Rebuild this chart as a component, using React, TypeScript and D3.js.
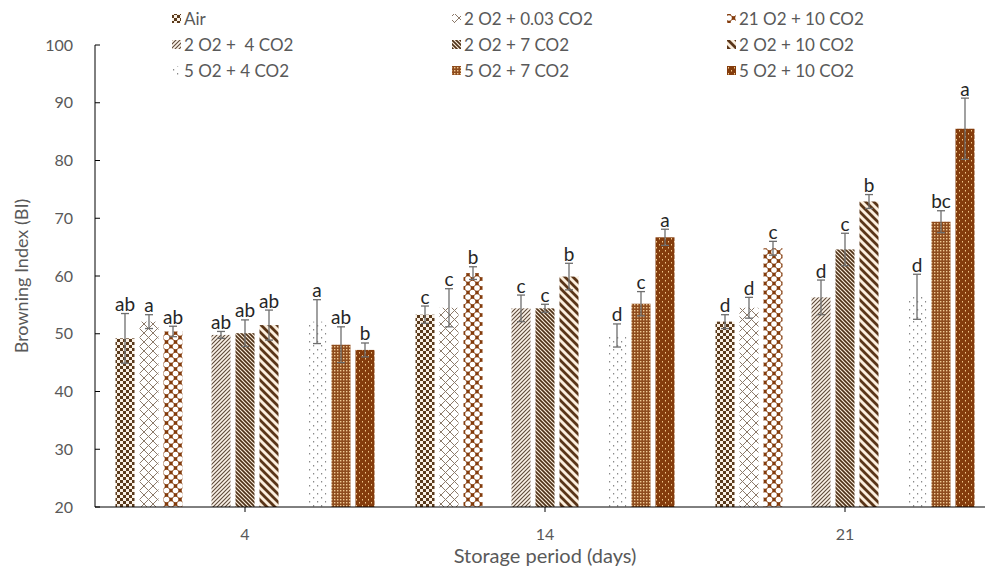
import * as d3 from "d3";

const categories = ["4", "14", "21"];
const seriesNames = [
  "Air",
  "2 O2 + 0.03 CO2",
  "21 O2 + 10 CO2",
  "2 O2 +  4 CO2",
  "2 O2 + 7 CO2",
  "2 O2 + 10 CO2",
  "5 O2 + 4 CO2",
  "5 O2 + 7 CO2",
  "5 O2 + 10 CO2",
];
// values per series, one per storage day (4, 14, 21)
const air = [49.2, 53.3, 52.1];
const o2co2_003 = [52.1, 54.5, 54.5];
const o21co2_10 = [50.4, 60.5, 64.8];
const o2co2_4 = [49.8, 54.4, 56.3];
const o2co2_7 = [50.1, 54.4, 64.6];
const o2co2_10 = [51.5, 59.9, 72.9];
const o5co2_4 = [52.1, 49.7, 56.4];
const o5co2_7 = [48.1, 55.2, 69.4];
const o5co2_10 = [47.2, 66.7, 85.5];
const values = [air, o2co2_003, o21co2_10, o2co2_4, o2co2_7, o2co2_10, o5co2_4, o5co2_7, o5co2_10];
const errors = [
  [4.3, 1.5, 1.2],
  [1.2, 3.3, 1.8],
  [0.9, 1.1, 1.2],
  [0.6, 2.3, 3.0],
  [2.3, 0.7, 2.8],
  [2.6, 2.3, 1.2],
  [3.8, 2.0, 3.9],
  [3.1, 2.1, 1.9],
  [1.2, 1.4, 5.3],
];
const letters = [
  ["ab", "c", "d"],
  ["a", "c", "d"],
  ["ab", "b", "c"],
  ["ab", "c", "d"],
  ["ab", "c", "c"],
  ["ab", "b", "b"],
  ["a", "d", "d"],
  ["ab", "c", "bc"],
  ["b", "a", "a"],
];
const yTicks = [20, 30, 40, 50, 60, 70, 80, 90, 100];

const W = 985;
const H = 567;
const font = "Lato, 'Open Sans', sans-serif";
const grey = "#595959";
const brown = "#843C0C";

function Patterns() {
  return (
    <defs>
      <pattern id="p0" width="6" height="6" patternUnits="userSpaceOnUse">
        <rect width="6" height="6" fill="#faf1e6" />
        <rect width="3" height="3" fill="#5a3a1c" />
        <rect x="3" y="3" width="3" height="3" fill="#5a3a1c" />
      </pattern>
      <pattern id="p1" width="9" height="9" patternUnits="userSpaceOnUse">
        <rect width="9" height="9" fill="#fff" />
        <path d="M0,0L9,9M9,0L0,9" stroke="#8c7a6a" strokeWidth="1" />
      </pattern>
      <pattern id="p2" width="9" height="9" patternUnits="userSpaceOnUse">
        <rect width="9" height="9" fill={brown} />
        <circle cx="0" cy="0" r="2.8" fill="#fff" />
        <circle cx="9" cy="0" r="2.8" fill="#fff" />
        <circle cx="0" cy="9" r="2.8" fill="#fff" />
        <circle cx="9" cy="9" r="2.8" fill="#fff" />
        <circle cx="4.5" cy="4.5" r="2.8" fill="#fff" />
      </pattern>
      <pattern id="p3" width="4" height="4" patternUnits="userSpaceOnUse">
        <rect width="4" height="4" fill="#fbf2e8" />
        <path d="M-1,1L1,-1M0,4L4,0M3,5L5,3" stroke="#5e4a3a" strokeWidth="1.1" />
      </pattern>
      <pattern id="p4" width="4" height="4" patternUnits="userSpaceOnUse">
        <rect width="4" height="4" fill="#f8ead8" />
        <path d="M-1,3L1,5M0,0L4,4M3,-1L5,1" stroke="#4e3118" strokeWidth="1.6" />
      </pattern>
      <pattern id="p5" width="8" height="8" patternUnits="userSpaceOnUse">
        <rect width="8" height="8" fill="#fbeedd" />
        <path d="M-2,6L2,10M0,0L8,8M6,-2L10,2" stroke="#5a3518" strokeWidth="2.8" />
      </pattern>
      <pattern id="p6" width="8" height="8" patternUnits="userSpaceOnUse">
        <rect width="8" height="8" fill="#fff" />
        <rect x="1" y="1" width="1.2" height="1.5" fill="#8a8a8a" />
        <rect x="5" y="5" width="1.2" height="1.5" fill="#8a8a8a" />
      </pattern>
      <pattern id="p7" width="3" height="3" patternUnits="userSpaceOnUse">
        <rect width="3" height="3" fill="#8e4c1e" />
        <rect x="1" y="1" width="1.4" height="1.4" fill="#f0c994" />
      </pattern>
      <pattern id="p8" width="6" height="6" patternUnits="userSpaceOnUse">
        <rect width="6" height="6" fill={brown} />
        <rect x="2" y="1" width="1" height="1.5" fill="#f3c98b" />
        <rect x="5" y="4" width="1" height="1.5" fill="#f3c98b" />
      </pattern>
    </defs>
  );
}

export default function App() {
  const left = 95;
  const x = d3.scaleBand<string>().domain(categories).range([left, 995]);
  const slot = d3.scaleBand<number>().domain(d3.range(11)).range([-132, 132]);
  const barW = 19;
  const y = d3.scaleLinear().domain([20, 100]).range([507, 45]);
  const slotOf = (i: number) => i + Math.floor(i / 3);
  const barX = (i: number, c: number) =>
    x(categories[c])! + x.bandwidth() / 2 + slot(slotOf(i))! + slot.bandwidth() / 2;

  const legendX = [172, 452, 727];
  const legendY = [19, 45, 71];

  return (
    <svg width={W} height={H} style={{ position: "absolute", left: 0, top: 0, background: "#fff" }}>
      <Patterns />

      {/* legend */}
      {seriesNames.map((name, i) => {
        const lx = legendX[i % 3];
        const ly = legendY[Math.floor(i / 3)];
        return (
          <g key={name}>
            <rect x={lx} y={ly - 5} width={9} height={9} fill={`url(#p${i})`} />
            <text x={lx + 12} y={ly} dy="0.35em" fontFamily={font} fontSize={17} fill={grey} style={{ whiteSpace: "pre" }}>
              {name}
            </text>
          </g>
        );
      })}

      {/* bars */}
      {values.map((vals, i) =>
        vals.map((v, c) => (
          <rect
            key={`b${i}-${c}`}
            x={barX(i, c) - barW / 2}
            y={y(v)}
            width={barW}
            height={y(20) - y(v)}
            fill={`url(#p${i})`}
          />
        ))
      )}

      {/* error bars and letters */}
      {values.map((vals, i) =>
        vals.map((v, c) => {
          const cx = barX(i, c);
          const e = errors[i][c];
          const top = y(v + e);
          const bot = y(v - e);
          return (
            <g key={`e${i}-${c}`}>
              <line x1={cx} x2={cx} y1={top} y2={bot} stroke="#6e6e6e" strokeWidth={1.3} />
              <line x1={cx - 4} x2={cx + 4} y1={top} y2={top} stroke="#6e6e6e" strokeWidth={1.3} />
              <line x1={cx - 4} x2={cx + 4} y1={bot} y2={bot} stroke="#6e6e6e" strokeWidth={1.3} />
              <text x={cx} y={top - 2.5} textAnchor="middle" fontFamily={font} fontSize={19} fill="#262626">
                {letters[i][c]}
              </text>
            </g>
          );
        })
      )}

      {/* y axis */}
      <line x1={left} x2={left} y1={y(100)} y2={y(20)} stroke="#000" strokeWidth={1} />
      {yTicks.map((t) => (
        <g key={t}>
          <line x1={left} x2={left + 5} y1={y(t)} y2={y(t)} stroke="#000" strokeWidth={1} />
          <text x={73} y={y(t)} dy="0.35em" textAnchor="end" fontFamily={font} fontSize={16} fill={grey}>
            {t}
          </text>
        </g>
      ))}
      <text
        transform={`translate(22,${(y(100) + y(20)) / 2}) rotate(-90)`}
        textAnchor="middle"
        dy="0.35em"
        fontFamily={font}
        fontSize={18}
        fill={grey}
      >
        Browning Index (BI)
      </text>

      {/* x axis */}
      <line x1={left} x2={W} y1={y(20)} y2={y(20)} stroke="#000" strokeWidth={1} />
      {categories.map((c) => (
        <g key={c}>
          <line x1={x(c)! + x.bandwidth() / 2} x2={x(c)! + x.bandwidth() / 2} y1={y(20)} y2={y(20) + 5} stroke="#000" />
          <text x={x(c)! + x.bandwidth() / 2} y={534} dy="0.35em" textAnchor="middle" fontFamily={font} fontSize={16} fill={grey}>
            {c}
          </text>
        </g>
      ))}
      <text x={(left + 995) / 2} y={556} dy="0.35em" textAnchor="middle" fontFamily={font} fontSize={20} fill={grey}>
        Storage period (days)
      </text>
    </svg>
  );
}
